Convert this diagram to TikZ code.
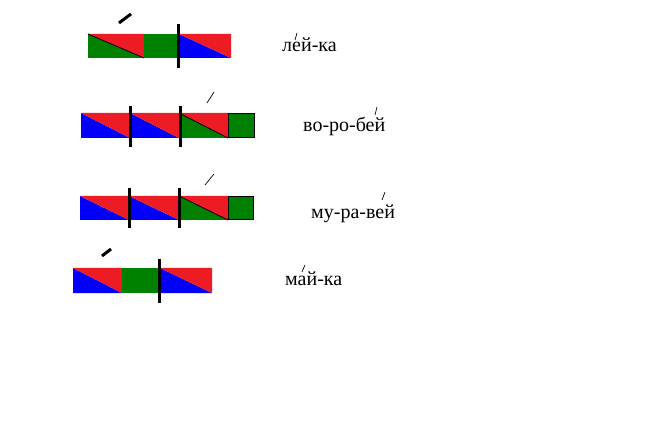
\documentclass[tikz,border=0pt]{standalone}
\usepackage{fontspec}
\setmainfont{Liberation Serif}
\definecolor{soundred}{RGB}{237,28,36}
\definecolor{soundblue}{RGB}{0,0,250}
\definecolor{soundgreen}{RGB}{0,128,0}

\begin{document}
\begin{tikzpicture}[
    x=1pt, y=-1pt,
    % Vowel half of a merged syllable
    vowel/.style={fill=soundred},
    % Hard consonant half
    hard/.style={fill=soundblue},
    % Soft consonant half / soft sound box
    soft/.style={fill=soundgreen},
    % Diagonal line inside soft syllables
    diag/.style={draw=black, line width=0.8pt},
    % Syllable divider
    divider/.style={draw=black, line width=3pt},
    % Stress marks
    stressbold/.style={draw=black, line width=3pt},
    stressthin/.style={draw=black, line width=0.7pt},
    % Word label style
    word/.style={
        anchor=base west,
        inner sep=0pt,
        font=\fontsize{20}{24}\selectfont
    }
]
\useasboundingbox[fill=white] (0,0) rectangle (671,443);

% === Row 1: лей-ка ===
\fill[soft] (88,34) -- (88,58) -- (144,58) -- cycle;
\fill[vowel] (88,34) -- (144,34) -- (144,58) -- cycle;
\draw[diag] (88,34) -- (144,58);
\fill[soft] (144,34) rectangle (179,58);
\fill[hard] (179,34) -- (179,58) -- (231,58) -- cycle;
\fill[vowel] (179,34) -- (231,34) -- (231,58) -- cycle;
\draw[divider] (178,24) -- (178,68);
\draw[stressbold] (119,23) -- (131,14);

\node[word] (leika) at (282,52) {лей-ка};
\draw[stressthin] (295,40) -- (297,33);

% === Row 2: во-ро-бей ===
\fill[hard] (81,113) -- (81,138) -- (130,138) -- cycle;
\fill[vowel] (81,113) -- (130,113) -- (130,138) -- cycle;
\fill[hard] (130,113) -- (130,138) -- (179,138) -- cycle;
\fill[vowel] (130,113) -- (179,113) -- (179,138) -- cycle;
\fill[soft] (179,113) -- (179,138) -- (228,138) -- cycle;
\fill[vowel] (179,113) -- (228,113) -- (228,138) -- cycle;
\draw[diag] (179,113) -- (228,138);
\filldraw[soft, draw=black, thin] (228.5,113.5) rectangle (254.5,137.5);
\draw[divider] (130,106) -- (130,147);
\draw[divider] (180,106) -- (180,147);
\draw[stressthin] (207,103) -- (214,92);

\node[word] (vorobei) at (303,132) {во-ро-бей};
\draw[stressthin] (375,115) -- (377,107);

% === Row 3: му-ра-вей ===
\fill[hard] (80,196) -- (80,220) -- (129,220) -- cycle;
\fill[vowel] (80,196) -- (129,196) -- (129,220) -- cycle;
\fill[hard] (129,196) -- (129,220) -- (179,220) -- cycle;
\fill[vowel] (129,196) -- (179,196) -- (179,220) -- cycle;
\fill[soft] (179,196) -- (179,220) -- (228,220) -- cycle;
\fill[vowel] (179,196) -- (228,196) -- (228,220) -- cycle;
\draw[diag] (179,196) -- (228,220);
\filldraw[soft, draw=black, thin] (228.5,196.5) rectangle (253.5,219.5);
\draw[divider] (129,188) -- (129,228);
\draw[divider] (179,188) -- (179,228);
\draw[stressthin] (205,185) -- (214,174);

\node[word] (muravei) at (311,219) {му-ра-вей};
\draw[stressthin] (382,200) -- (385,192);

% === Row 4: май-ка ===
\fill[hard] (73,268) -- (73,293) -- (122,293) -- cycle;
\fill[vowel] (73,268) -- (122,268) -- (122,293) -- cycle;
\fill[soft] (122,268) rectangle (160,293);
\fill[hard] (160,268) -- (160,293) -- (212,293) -- cycle;
\fill[vowel] (160,268) -- (212,268) -- (212,293) -- cycle;
\draw[divider] (159,259) -- (159,303);
\draw[stressbold] (102,256) -- (111,249);

\node[word] (maika) at (285,286) {май-ка};
\draw[stressthin] (302,272) -- (305,265);

\end{tikzpicture}
\end{document}
